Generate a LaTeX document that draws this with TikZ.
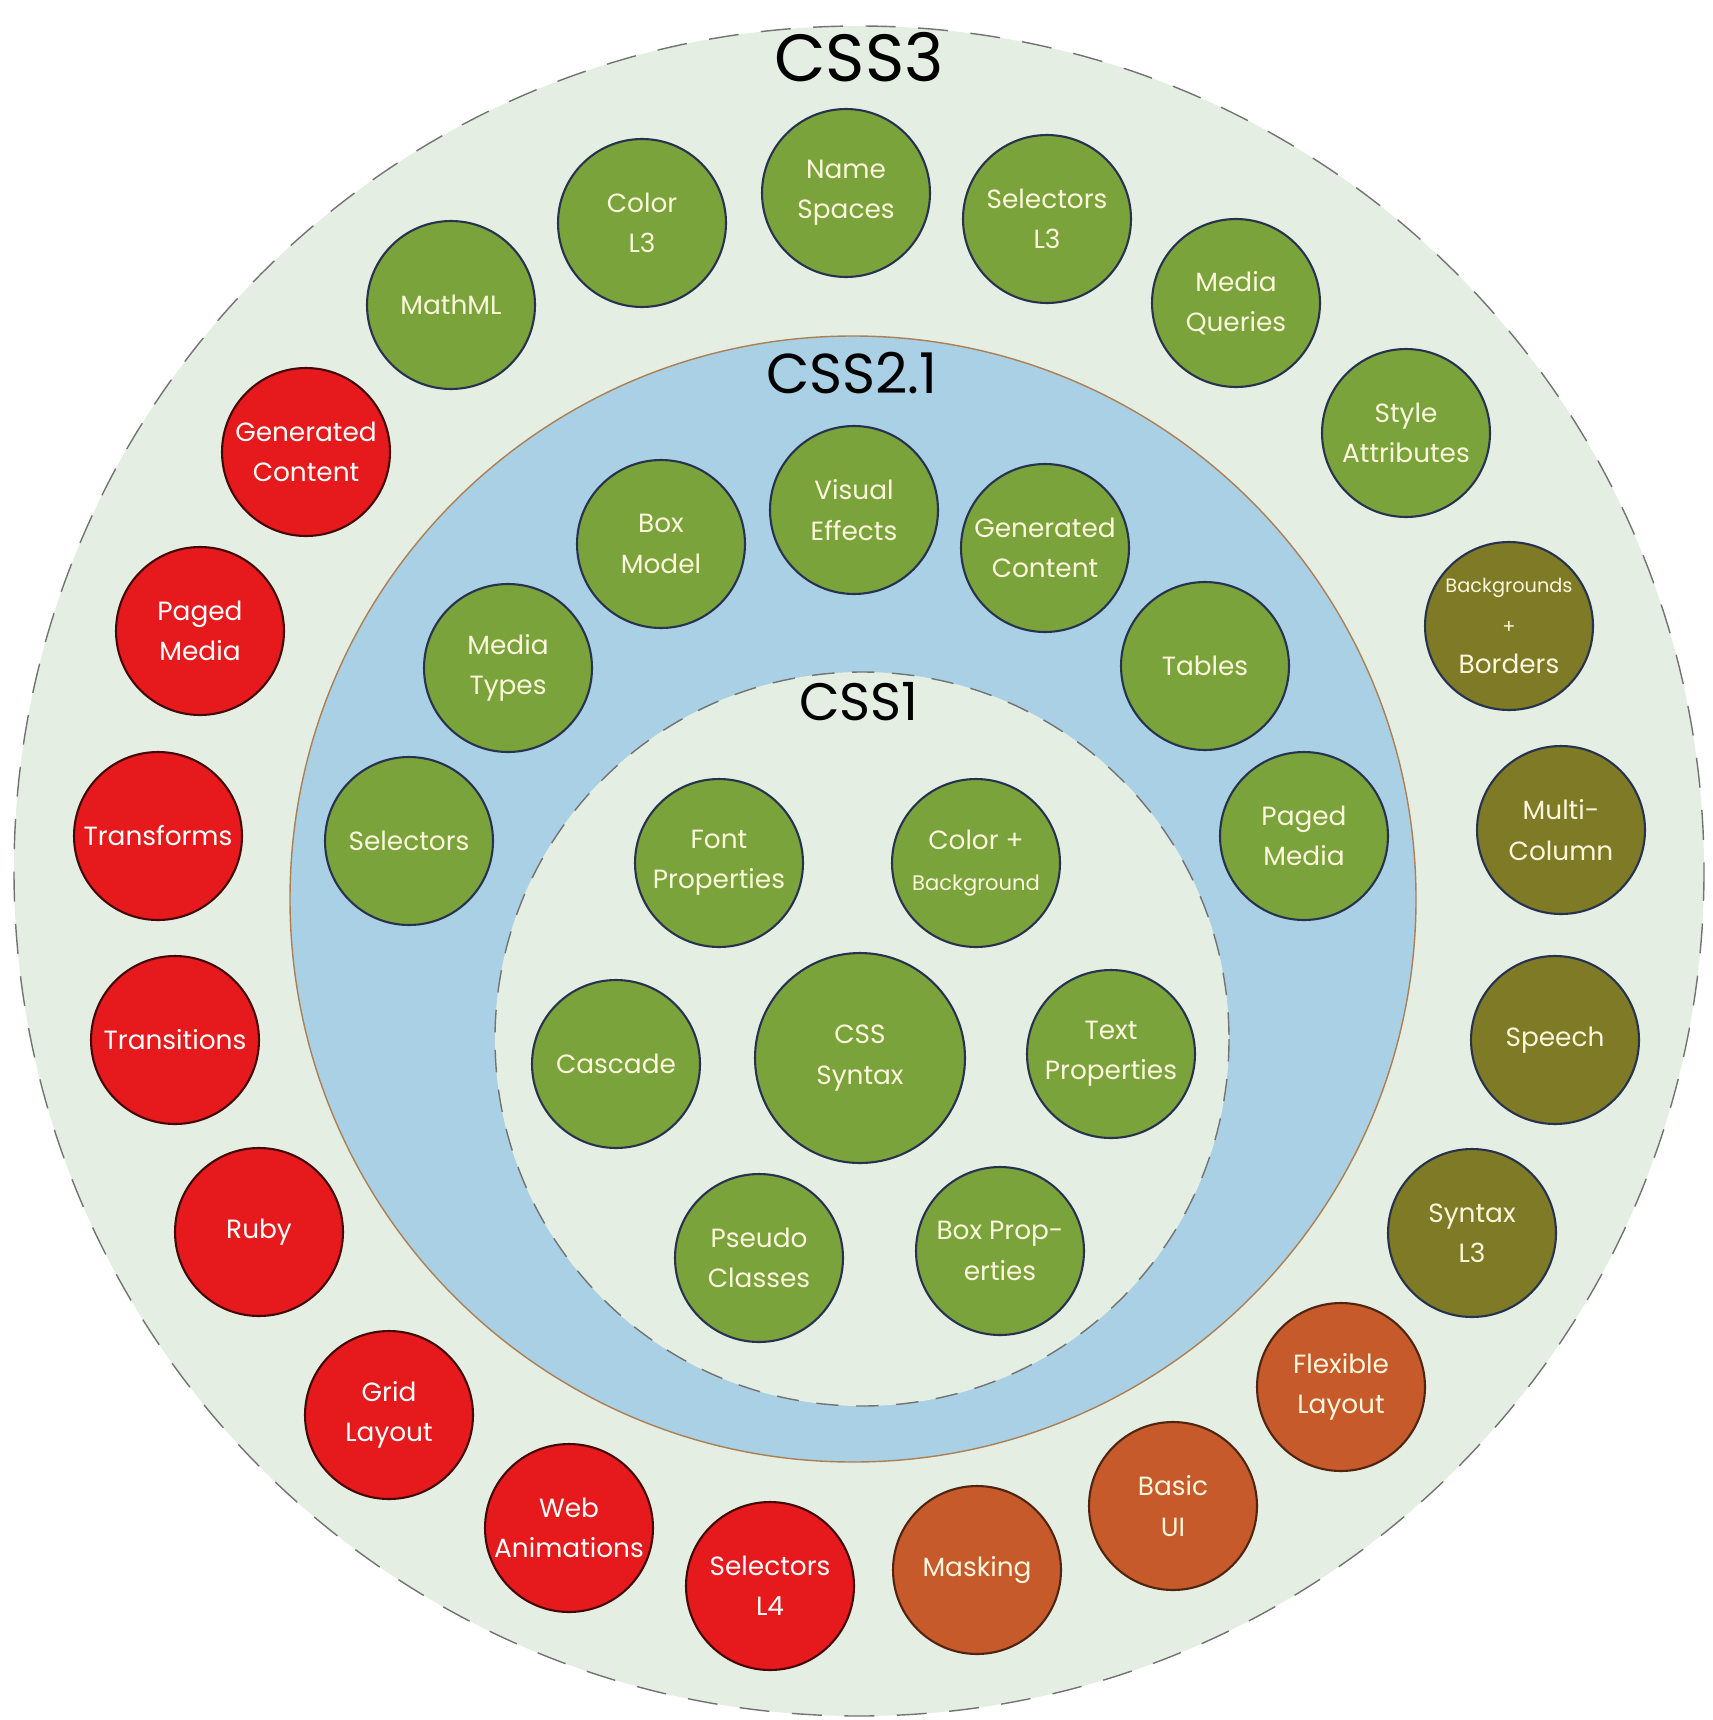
\documentclass[tikz,border=0pt]{standalone}
\usepackage{fontspec}
\setmainfont{Poppins}
\definecolor{ringGray}{HTML}{E4EEE3}
\definecolor{ringBlue}{HTML}{A9D0E5}
\definecolor{specGreen}{HTML}{7BA33C}
\definecolor{specRed}{HTML}{E61A1C}
\definecolor{specOlive}{HTML}{7F7A26}
\definecolor{specOrange}{HTML}{C65A2B}
\definecolor{edgeNavy}{HTML}{27324F}
\definecolor{labelCream}{HTML}{FBF6DC}

\begin{document}
\begin{tikzpicture}[x=0.02cm, y=-0.02cm,
    spec/.style={circle, draw=edgeNavy, line width=1.2pt, minimum size=3.36cm, inner sep=0pt,
      align=center, text=labelCream, font=\fontsize{15}{23}\selectfont},
    green/.style={spec, fill=specGreen},
    red/.style={spec, fill=specRed, draw=black!70!specRed, text=white},
    olive/.style={spec, fill=specOlive},
    orange/.style={spec, fill=specOrange, draw=black!60!specOrange},
    level/.style={text=black, font=\fontsize{#1}{#1}\selectfont},
  ]
  \useasboundingbox (0,0) rectangle (1712,1720);

  % Ringe
  \fill[ringGray] (859,871) circle (845);
  \draw[black!55, line width=0.8pt, dash pattern=on 0.6cm off 0.45cm] (859,871) circle (845);
  \fill[ringBlue] (853,899) circle (563);
  \draw[brown!70!gray, line width=0.8pt] (853,899) circle (563);
  \fill[ringGray] (862,1039) circle (367);
  \draw[black!55, line width=0.8pt, dash pattern=on 0.45cm off 0.35cm] (862,1039) circle (367);

  \node[level=38] (css3) at (859,57) {CSS3};
  \node[level=32] (css21) at (852,373) {CSS2.1};
  \node[level=30] (css1) at (859,702) {CSS1};

  % CSS3
  \node[green] (ns3) at (846,193) {Name\\Spaces};
  \node[green] (col3) at (642,223) {Color\\L3};
  \node[green] (sel3) at (1047,219) {Selectors\\L3};
  \node[green] (math) at (451,305) {MathML};
  \node[green] (mq) at (1236,303) {Media\\Queries};
  \node[red] (gen3) at (306,452) {Generated\\Content};
  \node[green] (sty) at (1406,433) {Style\\Attributes};
  \node[red] (page3) at (200,631) {Paged\\Media};
  \node[olive, font=\fontsize{11}{23}\selectfont] (bgb) at (1509,626) {Backgrounds\\+\\{\fontsize{15}{15}\selectfont Borders}};
  \node[red] (trf) at (158,836) {Transforms};
  \node[olive] (mcol) at (1561,830) {Multi-\\Column};
  \node[red] (trn) at (175,1040) {Transitions};
  \node[olive] (spch) at (1555,1040) {Speech};
  \node[red] (ruby) at (259,1232) {Ruby};
  \node[olive] (syn3) at (1472,1233) {Syntax\\L3};
  \node[red] (grid) at (389,1415) {Grid\\Layout};
  \node[orange] (flex) at (1341,1387) {Flexible\\Layout};
  \node[red] (wani) at (569,1528) {Web\\Animations};
  \node[orange] (bui) at (1173,1506) {Basic\\UI};
  \node[red] (sel4) at (770,1586) {Selectors\\L4};
  \node[orange] (mask) at (977,1570) {Masking};

  % CSS2.1
  \node[green] (vis) at (854,510) {Visual\\Effects};
  \node[green] (box) at (661,544) {Box\\Model};
  \node[green] (gen2) at (1045,548) {Generated\\Content};
  \node[green] (mt) at (508,668) {Media\\Types};
  \node[green] (tab) at (1205,666) {Tables};
  \node[green] (sel2) at (409,841) {Selectors};
  \node[green] (page2) at (1304,836) {Paged\\Media};

  % CSS1
  \node[green] (font) at (719,863) {Font\\Properties};
  \node[green] (colbg) at (976,863) {Color +\\{\fontsize{12}{12}\selectfont Background}};
  \node[green] (casc) at (616,1064) {Cascade};
  \node[green, minimum size=4.2cm] (syn) at (860,1058) {CSS\\Syntax};
  \node[green] (txt) at (1111,1054) {Text\\Properties};
  \node[green] (pseu) at (759,1258) {Pseudo\\Classes};
  \node[green] (boxp) at (1000,1251) {Box Prop-\\erties};
\end{tikzpicture}
\end{document}
